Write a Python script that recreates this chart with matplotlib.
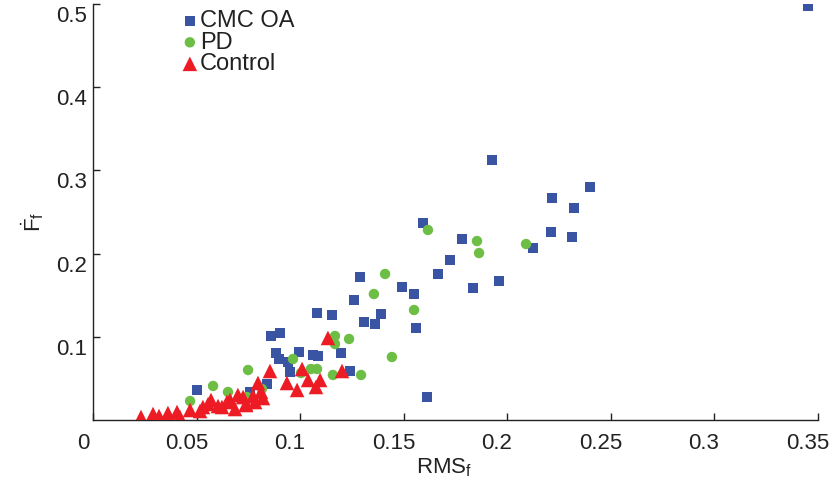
import matplotlib
matplotlib.use("Agg")
import matplotlib.pyplot as plt
import matplotlib.transforms as mtransforms

plt.rcParams["font.family"] = ["Liberation Sans", "DejaVu Sans"]
plt.rcParams["mathtext.fontset"] = "custom"
plt.rcParams["mathtext.rm"] = "Liberation Sans"
plt.rcParams["mathtext.it"] = "Liberation Sans"
plt.rcParams["mathtext.bf"] = "Liberation Sans:bold"

# CMC OA group
cmc_rms = [0.3454, 0.1928, 0.2401, 0.2217, 0.2324, 0.2213, 0.2314, 0.2126, 0.1961, 0.1836,
           0.1594, 0.1783, 0.1725, 0.1667, 0.1493, 0.1551, 0.1560, 0.1614, 0.1290, 0.1261,
           0.1082, 0.1155, 0.1391, 0.1309, 0.1362, 0.0995, 0.1063, 0.1087, 0.1198, 0.1242,
           0.0860, 0.0903, 0.0884, 0.0899, 0.0942, 0.0952, 0.0841, 0.0758, 0.0502]
cmc_fdot = [0.497, 0.3125, 0.280, 0.2668, 0.2548, 0.226, 0.220, 0.2067, 0.167, 0.1587,
            0.2368, 0.2175, 0.1923, 0.1755, 0.1599, 0.1514, 0.1106, 0.0276, 0.1719, 0.1442,
            0.1286, 0.1262, 0.1274, 0.1178, 0.1154, 0.0817, 0.0781, 0.0769, 0.0805, 0.0589,
            0.101, 0.1046, 0.0805, 0.0733, 0.0697, 0.0577, 0.0433, 0.0337, 0.0361]

# PD group
pd_rms = [0.1618, 0.1855, 0.1865, 0.2092, 0.1551, 0.1411, 0.1357, 0.1444, 0.1169, 0.1237,
          0.1169, 0.0966, 0.0749, 0.1053, 0.1082, 0.1159, 0.1295, 0.1005, 0.0580, 0.0469,
          0.0652, 0.0744, 0.0816]
pd_fdot = [0.2284, 0.2151, 0.2007, 0.2115, 0.1322, 0.1755, 0.1514, 0.0757, 0.101, 0.0974,
           0.0913, 0.0733, 0.0601, 0.0613, 0.0613, 0.0541, 0.0541, 0.0565, 0.0409, 0.0228,
           0.0337, 0.0276, 0.0373]

# Control group
ctl_rms = [0.0232, 0.0290, 0.0319, 0.0362, 0.0406, 0.0420, 0.0469, 0.0517, 0.0570, 0.0604,
           0.0647, 0.0700, 0.0686, 0.0739, 0.0797, 0.0773, 0.0821, 0.0855, 0.0937, 0.0986,
           0.1010, 0.1039, 0.1077, 0.1097, 0.1135, 0.1203, 0.0531, 0.0623, 0.0725, 0.0739,
           0.0783, 0.0812, 0.0556, 0.0662]
ctl_fdot = [0.0036, 0.0072, 0.0048, 0.0084, 0.0096, 0.0036, 0.0120, 0.0108, 0.0240, 0.0168,
            0.0216, 0.0300, 0.0132, 0.0192, 0.0445, 0.0288, 0.0264, 0.0589, 0.0445, 0.0361,
            0.0613, 0.0481, 0.0397, 0.0481, 0.0986, 0.0589, 0.0156, 0.0156, 0.0276, 0.0180,
            0.0216, 0.0337, 0.0192, 0.0240]

x_ticks = [0, 0.05, 0.1, 0.15, 0.2, 0.25, 0.3, 0.35]
x_ticklabels = ["0", "0.05", "0.1", "0.15", "0.2", "0.25", "0.3", "0.35"]
y_ticks = [0.1, 0.2, 0.3, 0.4, 0.5]
y_ticklabels = ["0.1", "0.2", "0.3", "0.4", "0.5"]

W, H = 835, 486
fig = plt.figure(figsize=(W / 100, H / 100), dpi=100)
ax = fig.add_axes([93 / W, (H - 420) / H, (817.5 - 93) / W, (420 - 4) / H])

blue = "#3A54A4"
green = "#6CBE45"
red = "#ED1C24"

ax.scatter(cmc_rms, cmc_fdot, marker="s", s=50, color=blue, edgecolors="none",
           label="CMC OA", zorder=3)
ax.scatter(pd_rms, pd_fdot, marker="o", s=56, color=green, edgecolors="none",
           label="PD", zorder=4)
ax.scatter(ctl_rms, ctl_fdot, marker="^", s=110, color=red, edgecolors="none",
           label="Control", zorder=5)

ax.set_xlim(0, 0.35)
ax.set_ylim(0, 0.5)

for side in ("top", "right"):
    ax.spines[side].set_visible(False)
for side in ("left", "bottom"):
    ax.spines[side].set_linewidth(1.0)
    ax.spines[side].set_color("#222222")

ax.tick_params(axis="both", direction="in", length=5, width=1.0, colors="#222222",
               labelsize=16, labelcolor="#222222")
ax.tick_params(axis="x", pad=9)
ax.tick_params(axis="y", pad=4)

ax.set_xticks(x_ticks)
ax.set_xticklabels(x_ticklabels)
ax.set_yticks(y_ticks)
ax.set_yticklabels(y_ticklabels)

# tick labels sit slightly left of / below their ticks
shift_x = mtransforms.ScaledTranslation(-10 / 100, 0, fig.dpi_scale_trans)
shift_y = mtransforms.ScaledTranslation(0, -10 / 100, fig.dpi_scale_trans)
for lab in ax.get_xticklabels():
    lab.set_transform(lab.get_transform() + shift_x)
for lab in ax.get_yticklabels():
    lab.set_transform(lab.get_transform() + shift_y)

ax.set_xlabel(r"RMS$_\mathrm{f}$", fontsize=16, color="#222222", va="center")
ax.xaxis.set_label_coords((444 - 93) / 724.5, (420 - 468) / 416)
ax.set_ylabel(r"$\dot{\mathrm{F}}_\mathrm{f}$", fontsize=16, color="#222222", va="center")
ax.yaxis.set_label_coords((33 - 93) / 724.5, (420 - 222) / 416)

leg = ax.legend(loc="upper left", bbox_to_anchor=(181 / W, 1 - 10 / H),
                bbox_transform=fig.transFigure, frameon=False, fontsize=17,
                handlelength=0.75, handletextpad=0.05, borderpad=0, borderaxespad=0,
                labelspacing=-0.02, scatterpoints=1)
for t in leg.get_texts():
    t.set_color("#222222")

fig.savefig("out.png", dpi=100)
